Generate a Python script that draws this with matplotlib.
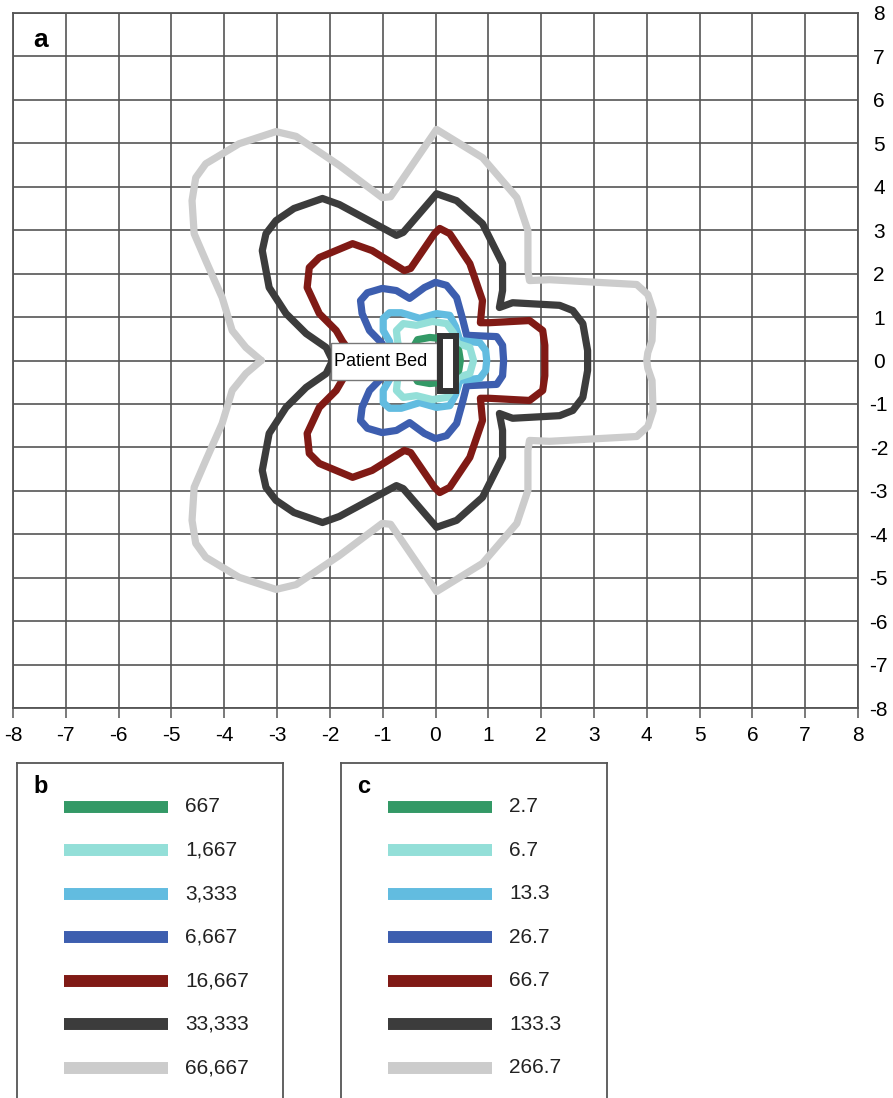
import numpy as np
import matplotlib.pyplot as plt
from matplotlib.patches import Rectangle

plt.rcParams['font.family'] = ['Liberation Sans', 'DejaVu Sans']
plt.rcParams['axes.unicode_minus'] = False

colors = ['#339966', '#93dfd8', '#62bce0', '#3d5eaf', '#801a15', '#3c3c3c', '#cccccc']
labels_b = ['667', '1,667', '3,333', '6,667', '16,667', '33,333', '66,667']
labels_c = ['2.7', '6.7', '13.3', '26.7', '66.7', '133.3', '266.7']

# upper half of each isodose line (metres), left tip -> right tip; lower half is its mirror
line_667 = np.array([
    (-0.40, 0.00), (-0.40, 0.35), (-0.34, 0.48), (-0.11, 0.53), (0.08, 0.51),
    (0.30, 0.37), (0.44, 0.23), (0.47, 0.00)])
line_1667 = np.array([
    (-0.65, 0.00), (-0.72, 0.46), (-0.74, 0.69), (-0.61, 0.85), (-0.36, 0.81),
    (-0.06, 0.90), (0.21, 0.85), (0.34, 0.64), (0.42, 0.39), (0.65, 0.30), (0.72, 0.00)])
line_3333 = np.array([
    (-0.80, 0.00), (-0.87, 0.44), (-0.99, 0.69), (-0.99, 0.97), (-0.87, 1.10),
    (-0.65, 1.10), (-0.30, 0.97), (0.02, 1.08), (0.27, 1.04), (0.38, 0.78),
    (0.46, 0.46), (0.84, 0.41), (0.95, 0.23), (0.97, 0.00)])
line_6667 = np.array([
    (-0.90, 0.00), (-1.01, 0.39), (-1.25, 0.69), (-1.39, 1.08), (-1.42, 1.38),
    (-1.29, 1.56), (-1.01, 1.66), (-0.74, 1.61), (-0.49, 1.43), (-0.21, 1.68),
    (0.00, 1.80), (0.21, 1.73), (0.40, 1.45), (0.51, 0.97), (0.59, 0.58),
    (1.16, 0.55), (1.27, 0.35), (1.29, 0.00)])
line_16667 = np.array([
    (-1.50, 0.00), (-1.76, 0.44), (-1.88, 0.69), (-2.20, 1.08), (-2.43, 1.68),
    (-2.39, 2.14), (-2.20, 2.37), (-1.57, 2.69), (-1.20, 2.53), (-0.59, 2.07),
    (-0.47, 2.12), (-0.02, 2.92), (0.08, 3.04), (0.27, 2.92), (0.65, 2.23),
    (0.89, 1.38), (0.85, 0.87), (1.02, 0.87), (1.78, 0.92), (2.03, 0.69),
    (2.07, 0.35), (2.07, 0.00)])
line_33333 = np.array([
    (-1.95, 0.00), (-2.07, 0.30), (-2.45, 0.62), (-2.83, 1.08), (-3.15, 1.68),
    (-3.28, 2.53), (-3.21, 2.92), (-3.02, 3.22), (-2.68, 3.50), (-2.14, 3.73),
    (-1.82, 3.59), (-0.74, 2.88), (-0.61, 2.95), (0.02, 3.84), (0.40, 3.68),
    (0.89, 3.15), (1.27, 2.23), (1.27, 1.61), (1.21, 1.22), (1.46, 1.33),
    (2.35, 1.27), (2.60, 1.15), (2.79, 0.85), (2.88, 0.23), (2.88, 0.00)])
line_66667 = np.array([
    (-3.30, 0.00), (-3.59, 0.30), (-3.85, 0.69), (-4.04, 1.45), (-4.35, 2.30),
    (-4.57, 2.92), (-4.61, 3.68), (-4.54, 4.21), (-4.35, 4.53), (-3.72, 4.99),
    (-3.02, 5.27), (-2.64, 5.16), (-1.82, 4.49), (-1.01, 3.75), (-0.85, 3.77),
    (0.02, 5.32), (0.89, 4.67), (1.54, 3.75), (1.75, 2.99), (1.75, 2.07),
    (1.78, 1.84), (2.16, 1.86), (3.81, 1.75), (4.02, 1.52), (4.12, 1.15),
    (4.10, 0.46), (4.02, 0.18), (4.00, 0.00)])
lines = [line_667, line_1667, line_3333, line_6667, line_16667, line_33333, line_66667]

fig = plt.figure(figsize=(8.93, 10.98), dpi=100)
ax = fig.add_axes([13 / 893, 1 - 708 / 1098, 845 / 893, 695 / 1098])
ax.set_xlim(-8, 8)
ax.set_ylim(-8, 8)
ax.set_xticks(range(-8, 9))
ax.set_yticks(range(-8, 9))
ax.grid(True, color='#555555', lw=1.2)
ax.set_axisbelow(True)
for s in ax.spines.values():
    s.set_color('#555555')
    s.set_linewidth(1.3)
ax.yaxis.tick_right()
ax.tick_params(axis='x', length=7, width=1.1, color='#555555', pad=6, labelsize=15)
ax.tick_params(axis='y', length=0, pad=15, labelsize=15)
for t in ax.get_yticklabels():
    t.set_ha('center')

for pts, c in zip(lines[::-1], colors[::-1]):
    x = np.concatenate([pts[:, 0], pts[-2::-1, 0]])
    y = np.concatenate([pts[:, 1], -pts[-2::-1, 1]])
    ax.plot(x, y, color=c, lw=5.2, solid_joinstyle='round', solid_capstyle='round', zorder=3)

ax.add_patch(Rectangle((-1.98, -0.46), 2.0, 0.87, fc='white', ec='#777777', lw=1, zorder=5))
ax.text(-1.03, -0.03, 'Patient Bed', ha='center', va='center', fontsize=13, zorder=6)
ax.add_patch(Rectangle((0.08, -0.71), 0.30, 1.28, fc='white', ec='#333333', lw=4.3, zorder=7))
ax.text(-7.62, 7.22, 'a', fontsize=19, fontweight='bold', va='baseline')


def legend_box(left_px, letter, labels):
    lax = fig.add_axes([left_px / 893, 0, 266 / 893, (1098 - 763) / 1098])
    lax.set_xlim(0, 266)
    lax.set_ylim(6.69, -1.01)
    lax.set_xticks([])
    lax.set_yticks([])
    lax.spines['bottom'].set_visible(False)
    for s in lax.spines.values():
        s.set_color('#555555')
        s.set_linewidth(1.3)
    for row, (c, lab) in enumerate(zip(colors, labels)):
        lax.plot([47, 151], [row, row], color=c, lw=8.6, solid_capstyle='butt')
        lax.text(168, row, lab, va='center', fontsize=15, color='#222222')
    lax.text(16, -0.32, letter, fontsize=17, fontweight='bold', va='baseline')


legend_box(17, 'b', labels_b)
legend_box(341, 'c', labels_c)

fig.savefig('out.png', dpi=100)
